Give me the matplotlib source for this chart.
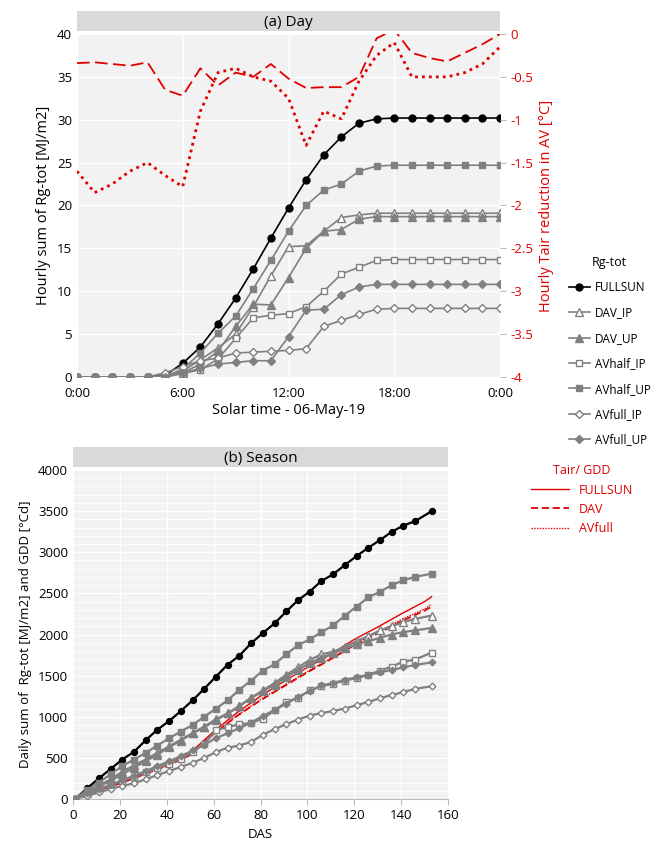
import matplotlib.pyplot as plt
import numpy as np

plt.rcParams["font.family"] = ["Open Sans", "DejaVu Sans"]

# ---- (a) Day: hourly cumulative Rg-tot ----
hours = list(range(25))
day_fullsun = [0, 0, 0, 0, 0, 0.2, 1.6, 3.5, 6.2, 9.2, 12.6, 16.2, 19.7, 23.0, 25.9, 28.0, 29.6, 30.1, 30.2, 30.2, 30.2, 30.2, 30.2, 30.2, 30.2]
day_dav_ip = [0, 0, 0, 0, 0, 0.1, 0.7, 2.0, 3.4, 5.0, 8.2, 11.8, 15.2, 15.3, 17.0, 18.6, 18.9, 19.1, 19.1, 19.1, 19.1, 19.1, 19.1, 19.1, 19.1]
day_dav_up = [0, 0, 0, 0, 0, 0.1, 0.5, 1.5, 3.0, 5.9, 8.5, 8.4, 11.6, 15.0, 17.0, 17.2, 18.4, 18.7, 18.7, 18.7, 18.7, 18.7, 18.7, 18.7, 18.7]
day_avhalf_ip = [0, 0, 0, 0, 0, 0, 0.4, 0.85, 2.1, 4.5, 6.9, 7.2, 7.4, 8.2, 10.0, 12.0, 12.8, 13.6, 13.7, 13.7, 13.7, 13.7, 13.7, 13.7, 13.7]
day_avhalf_up = [0, 0, 0, 0, 0, 0.1, 0.9, 2.8, 5.1, 7.1, 10.3, 13.6, 17.0, 20.0, 21.8, 22.5, 24.0, 24.6, 24.7, 24.7, 24.7, 24.7, 24.7, 24.7, 24.7]
day_avfull_ip = [0, 0, 0, 0, 0, 0.5, 1.2, 1.9, 2.2, 2.8, 2.9, 3.0, 3.1, 3.3, 5.9, 6.6, 7.3, 7.9, 8.0, 8.0, 8.0, 8.0, 8.0, 8.0, 8.0]
day_avfull_up = [0, 0, 0, 0, 0, 0, 0.5, 1.0, 1.5, 1.7, 1.9, 1.9, 4.7, 7.8, 7.9, 9.6, 10.5, 10.8, 10.8, 10.8, 10.8, 10.8, 10.8, 10.8, 10.8]
tair_dav = [-0.34, -0.33, -0.35, -0.37, -0.33, -0.65, -0.72, -0.4, -0.6, -0.45, -0.5, -0.35, -0.52, -0.63, -0.62, -0.62, -0.5, -0.05, 0.05, -0.22, -0.28, -0.32, -0.22, -0.12, 0.0]
tair_avfull = [-1.6, -1.85, -1.75, -1.6, -1.5, -1.65, -1.78, -0.9, -0.45, -0.4, -0.5, -0.55, -0.75, -1.3, -0.9, -0.99, -0.55, -0.25, -0.1, -0.5, -0.5, -0.5, -0.45, -0.35, -0.15]

# ---- (b) Season: daily cumulative Rg-tot ----
das = [1, 6, 11, 16, 21, 26, 31, 36, 41, 46, 51, 56, 61, 66, 71, 76, 81, 86, 91, 96, 101, 106, 111, 116, 121, 126, 131, 136, 141, 146, 153]
s_fullsun = [0, 129, 250, 363, 480, 573, 714, 843, 948, 1069, 1199, 1340, 1489, 1634, 1743, 1893, 2018, 2135, 2280, 2417, 2522, 2651, 2732, 2845, 2954, 3055, 3148, 3249, 3325, 3378, 3499]
s_avhalf_up = [0, 110, 200, 300, 400, 480, 560, 650, 740, 820, 900, 1000, 1100, 1200, 1330, 1440, 1560, 1640, 1760, 1870, 1940, 2030, 2110, 2230, 2340, 2450, 2520, 2600, 2660, 2700, 2740]
s_dav_ip = [0, 90, 160, 240, 330, 410, 480, 560, 640, 720, 800, 880, 970, 1040, 1130, 1230, 1320, 1410, 1510, 1600, 1690, 1760, 1790, 1850, 1920, 1980, 2050, 2100, 2150, 2190, 2230]
s_dav_up = [0, 85, 150, 220, 300, 380, 460, 540, 630, 710, 800, 870, 960, 1040, 1130, 1230, 1310, 1390, 1480, 1570, 1650, 1720, 1770, 1830, 1880, 1920, 1960, 2000, 2030, 2050, 2080]
s_avhalf_ip = [0, 60, 110, 170, 220, 270, 330, 380, 430, 490, 570, 670, 835, 875, 908, 925, 977, 1077, 1178, 1230, 1320, 1372, 1400, 1440, 1469, 1509, 1562, 1610, 1671, 1695, 1780]
s_avfull_ip = [0, 40, 80, 120, 160, 190, 240, 290, 340, 390, 440, 500, 570, 625, 650, 695, 780, 850, 910, 965, 1015, 1045, 1070, 1100, 1140, 1180, 1225, 1265, 1300, 1340, 1370]
s_avfull_up = [0, 70, 120, 170, 230, 280, 340, 400, 460, 520, 590, 660, 740, 800, 860, 930, 1010, 1080, 1160, 1240, 1310, 1380, 1410, 1450, 1480, 1510, 1540, 1570, 1600, 1630, 1660]

gdd_das = [0, 10, 20, 30, 40, 50, 60, 70, 80, 90, 100, 110, 120, 130, 140, 150, 153]
gdd_fullsun = [0, 100, 200, 310, 420, 560, 820, 1050, 1250, 1430, 1600, 1760, 1940, 2090, 2250, 2400, 2460]
gdd_dav = [0, 95, 190, 295, 400, 535, 790, 1010, 1200, 1370, 1540, 1700, 1870, 2010, 2160, 2290, 2340]
gdd_avfull = [0, 95, 190, 295, 400, 535, 795, 1015, 1210, 1380, 1550, 1710, 1880, 2025, 2180, 2310, 2370]

GREY = "#808080"
styles = [
    ("FULLSUN", dict(color="black", marker="o", mfc="black", mec="black", ms=5)),
    ("DAV_IP", dict(color=GREY, marker="^", mfc="white", mec=GREY, ms=6)),
    ("DAV_UP", dict(color=GREY, marker="^", mfc=GREY, mec=GREY, ms=6)),
    ("AVhalf_IP", dict(color=GREY, marker="s", mfc="white", mec=GREY, ms=5)),
    ("AVhalf_UP", dict(color=GREY, marker="s", mfc=GREY, mec=GREY, ms=5)),
    ("AVfull_IP", dict(color=GREY, marker="D", mfc="white", mec=GREY, ms=4)),
    ("AVfull_UP", dict(color=GREY, marker="D", mfc=GREY, mec=GREY, ms=4)),
]
day_series = [day_fullsun, day_dav_ip, day_dav_up, day_avhalf_ip, day_avhalf_up, day_avfull_ip, day_avfull_up]
season_series = [s_fullsun, s_dav_ip, s_dav_up, s_avhalf_ip, s_avhalf_up, s_avfull_ip, s_avfull_up]

W, H = 661, 847
fig = plt.figure(figsize=(W / 100, H / 100), dpi=100)


def box(l, t, r, b):
    return [l / W, 1 - b / H, (r - l) / W, (b - t) / H]


def strip(l, t, r, b, text):
    sax = fig.add_axes(box(l, t, r, b))
    sax.set_facecolor("#d9d9d9")
    sax.set_xticks([])
    sax.set_yticks([])
    for s in sax.spines.values():
        s.set_visible(False)
    sax.text(0.5, 0.45, text, ha="center", va="center", fontsize=11, transform=sax.transAxes)


# ---- panel (a) ----
ax = fig.add_axes(box(77, 34, 500, 377))
ax.set_facecolor("#f2f2f2")
for (name, st), y in zip(styles, day_series):
    ax.plot(hours, y, lw=1.2, label=name, zorder=3, **st)
ax.set_xlim(0, 24)
ax.set_ylim(0, 40)
ax.set_xticks([0, 6, 12, 18, 24])
ax.set_xticklabels(["0:00", "6:00", "12:00", "18:00", "0:00"])
ax.set_yticks(range(0, 41, 5))
ax.grid(color="white", lw=1)
ax.tick_params(length=0, labelsize=9.5)
ax.tick_params(axis="x", pad=7)
for s in ax.spines.values():
    s.set_visible(False)
ax.set_xlabel("Solar time - 06-May-19", fontsize=10.5, labelpad=2)
ax.set_ylabel("Hourly sum of Rg-tot [MJ/m2]", fontsize=10.5)
ax2 = ax.twinx()
ax2.plot(hours, tair_dav, color="#e00000", lw=1.3, ls=(0, (7, 3)))
ax2.plot(hours, tair_avfull, color="#e00000", lw=2, ls=(0, (1, 1.5)))
ax2.set_ylim(-4, 0)
ax2.set_yticks(np.arange(-4, 0.01, 0.5))
ax2.set_yticklabels(["-4", "-3.5", "-3", "-2.5", "-2", "-1.5", "-1", "-0.5", "0"])
ax2.tick_params(colors="#e00000", labelsize=9.5, length=4, color="#bbbbbb")
for s in ax2.spines.values():
    s.set_visible(False)
ax2.set_ylabel("Hourly Tair reduction in AV [°C]", color="#e00000", fontsize=10.5)
strip(77, 11, 500, 31, "(a) Day")

h, l = ax.get_legend_handles_labels()
leg = fig.legend(h, l, title="Rg-tot", loc="upper left", bbox_to_anchor=(558 / W, 1 - 245 / H),
                 frameon=False, fontsize=8.5, title_fontsize=9, labelspacing=1.05, handlelength=1.8,
                 handletextpad=0.4)

# ---- panel (b) ----
bx = fig.add_axes(box(73, 470, 448, 799))
bx.set_facecolor("#f2f2f2")
for (name, st), y in zip(styles, season_series):
    st = dict(st, ms=st["ms"] * 0.85)
    bx.plot(das, y, lw=1.6, zorder=3, **st)
r1, = bx.plot(gdd_das, gdd_fullsun, color="#e00000", lw=1)
r2, = bx.plot(gdd_das, gdd_dav, color="#e00000", lw=1.3, ls=(0, (4, 2)))
r3, = bx.plot(gdd_das, gdd_avfull, color="#e00000", lw=1, ls=(0, (1, 1)))
bx.set_xlim(0, 160)
bx.set_ylim(0, 4000)
bx.set_xticks(range(0, 161, 20))
bx.set_yticks(range(0, 4001, 500))
bx.set_yticks(range(0, 4001, 100), minor=True)
bx.grid(which="major", color="white", lw=1)
bx.grid(which="minor", axis="y", color="white", lw=0.6)
bx.tick_params(which="both", length=0, labelsize=9.5)
bx.tick_params(axis="x", length=4, color="#bbbbbb")
for s in bx.spines.values():
    s.set_visible(False)
bx.spines["bottom"].set_visible(True)
bx.spines["bottom"].set_color("#bbbbbb")
bx.set_xlabel("DAS", fontsize=9.5)
bx.set_ylabel("Daily sum of  Rg-tot [MJ/m2] and GDD [°Cd]", fontsize=9.5)
strip(73, 447, 448, 467, "(b) Season")

leg2 = fig.legend([r1, r2, r3], ["FULLSUN", "DAV", "AVfull"], title="Tair/ GDD", loc="upper left",
                  bbox_to_anchor=(520 / W, 1 - 453 / H), frameon=False, fontsize=9, title_fontsize=9,
                  labelcolor="#e00000", handlelength=3)
leg2.get_title().set_color("#e00000")

fig.savefig("out.png", dpi=100)
